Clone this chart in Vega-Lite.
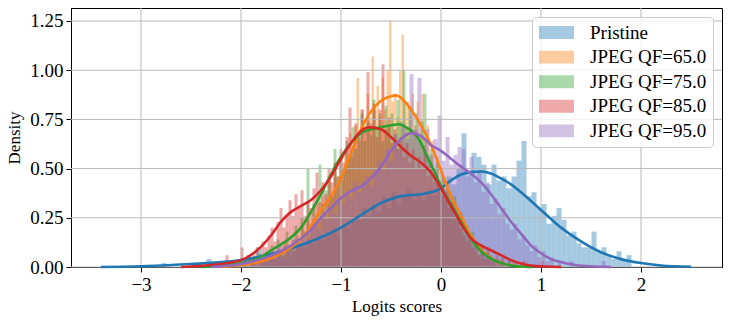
{
  "$schema": "https://vega.github.io/schema/vega-lite/v6.json",
  "width": 651,
  "height": 259,
  "autosize": {"type": "none"},
  "padding": {"left": 71, "top": 8, "right": 9, "bottom": 56},
  "background": "white",
  "config": {
    "font": "Liberation Serif",
    "view": {"stroke": "black", "strokeWidth": 1},
    "axis": {"grid": false, "domainColor": "black", "tickColor": "black", "tickSize": 5, "labelColor": "black", "titleColor": "black", "labelFont": "Liberation Serif", "titleFont": "Liberation Serif", "titleFontWeight": "normal"},
    "legend": {"labelFont": "Liberation Serif", "labelFontSize": 19, "labelColor": "black"}
  },
  "datasets": {
    "P": [{"a":-2.8,"d":0.02},{"a":-2.35,"d":0.04},{"a":-2.2,"d":0.02},{"a":-2.05,"d":0.02},{"a":-2.0,"d":0.04},{"a":-1.9,"d":0.04},{"a":-1.85,"d":0.10},{"a":-1.8,"d":0.04},{"a":-1.75,"d":0.06},{"a":-1.7,"d":0.04},{"a":-1.65,"d":0.08},{"a":-1.6,"d":0.06},{"a":-1.55,"d":0.10},{"a":-1.5,"d":0.08},{"a":-1.45,"d":0.12},{"a":-1.4,"d":0.10},{"a":-1.35,"d":0.14},{"a":-1.3,"d":0.12},{"a":-1.25,"d":0.16},{"a":-1.2,"d":0.14},{"a":-1.15,"d":0.18},{"a":-1.1,"d":0.20},{"a":-1.05,"d":0.16},{"a":-1.0,"d":0.22},{"a":-0.95,"d":0.20},{"a":-0.9,"d":0.26},{"a":-0.85,"d":0.24},{"a":-0.8,"d":0.30},{"a":-0.75,"d":0.26},{"a":-0.7,"d":0.32},{"a":-0.65,"d":0.28},{"a":-0.6,"d":0.36},{"a":-0.55,"d":0.30},{"a":-0.5,"d":0.38},{"a":-0.45,"d":0.32},{"a":-0.4,"d":0.36},{"a":-0.35,"d":0.40},{"a":-0.3,"d":0.34},{"a":-0.25,"d":0.38},{"a":-0.2,"d":0.34},{"a":-0.15,"d":0.40},{"a":-0.1,"d":0.36},{"a":-0.05,"d":0.42},{"a":0.0,"d":0.38},{"a":0.05,"d":0.46},{"a":0.1,"d":0.42},{"a":0.15,"d":0.50},{"a":0.2,"d":0.68},{"a":0.25,"d":0.48},{"a":0.3,"d":0.58},{"a":0.35,"d":0.56},{"a":0.4,"d":0.52},{"a":0.45,"d":0.42},{"a":0.5,"d":0.52},{"a":0.55,"d":0.44},{"a":0.6,"d":0.46},{"a":0.65,"d":0.40},{"a":0.7,"d":0.46},{"a":0.75,"d":0.54},{"a":0.8,"d":0.64},{"a":0.85,"d":0.36},{"a":0.9,"d":0.38},{"a":0.95,"d":0.30},{"a":1.0,"d":0.32},{"a":1.05,"d":0.22},{"a":1.1,"d":0.26},{"a":1.15,"d":0.30},{"a":1.2,"d":0.24},{"a":1.25,"d":0.16},{"a":1.3,"d":0.18},{"a":1.35,"d":0.12},{"a":1.4,"d":0.10},{"a":1.45,"d":0.10},{"a":1.5,"d":0.18},{"a":1.55,"d":0.08},{"a":1.6,"d":0.10},{"a":1.65,"d":0.06},{"a":1.7,"d":0.04},{"a":1.75,"d":0.08},{"a":1.8,"d":0.04},{"a":1.85,"d":0.06}],
    "O": [{"a":-1.9,"d":0.04},{"a":-1.85,"d":0.04},{"a":-1.8,"d":0.04},{"a":-1.775,"d":0.04},{"a":-1.725,"d":0.04},{"a":-1.7,"d":0.08},{"a":-1.675,"d":0.04},{"a":-1.65,"d":0.04},{"a":-1.625,"d":0.08},{"a":-1.6,"d":0.04},{"a":-1.575,"d":0.12},{"a":-1.55,"d":0.08},{"a":-1.525,"d":0.04},{"a":-1.5,"d":0.12},{"a":-1.475,"d":0.08},{"a":-1.45,"d":0.16},{"a":-1.425,"d":0.12},{"a":-1.4,"d":0.20},{"a":-1.375,"d":0.12},{"a":-1.35,"d":0.24},{"a":-1.325,"d":0.16},{"a":-1.3,"d":0.28},{"a":-1.275,"d":0.20},{"a":-1.25,"d":0.32},{"a":-1.225,"d":0.24},{"a":-1.2,"d":0.36},{"a":-1.175,"d":0.28},{"a":-1.15,"d":0.32},{"a":-1.125,"d":0.44},{"a":-1.1,"d":0.36},{"a":-1.075,"d":0.48},{"a":-1.05,"d":0.40},{"a":-1.025,"d":0.52},{"a":-1.0,"d":0.44},{"a":-0.975,"d":0.60},{"a":-0.95,"d":0.52},{"a":-0.925,"d":0.68},{"a":-0.9,"d":0.56},{"a":-0.875,"d":0.72},{"a":-0.85,"d":0.96},{"a":-0.825,"d":0.64},{"a":-0.8,"d":0.80},{"a":-0.775,"d":0.72},{"a":-0.75,"d":0.88},{"a":-0.725,"d":0.76},{"a":-0.7,"d":1.07},{"a":-0.675,"d":0.80},{"a":-0.65,"d":0.92},{"a":-0.625,"d":0.76},{"a":-0.6,"d":0.96},{"a":-0.575,"d":0.80},{"a":-0.55,"d":1.00},{"a":-0.525,"d":1.25},{"a":-0.5,"d":0.84},{"a":-0.475,"d":0.88},{"a":-0.45,"d":0.76},{"a":-0.425,"d":1.00},{"a":-0.4,"d":1.18},{"a":-0.375,"d":0.84},{"a":-0.35,"d":0.84},{"a":-0.325,"d":0.76},{"a":-0.3,"d":0.88},{"a":-0.275,"d":0.72},{"a":-0.25,"d":0.84},{"a":-0.225,"d":0.68},{"a":-0.2,"d":0.88},{"a":-0.175,"d":0.64},{"a":-0.15,"d":0.72},{"a":-0.125,"d":0.56},{"a":-0.1,"d":0.64},{"a":-0.075,"d":0.48},{"a":-0.05,"d":0.56},{"a":-0.025,"d":0.44},{"a":0.0,"d":0.48},{"a":0.025,"d":0.36},{"a":0.05,"d":0.44},{"a":0.075,"d":0.32},{"a":0.1,"d":0.36},{"a":0.125,"d":0.24},{"a":0.15,"d":0.28},{"a":0.175,"d":0.20},{"a":0.2,"d":0.24},{"a":0.225,"d":0.16},{"a":0.25,"d":0.20},{"a":0.275,"d":0.12},{"a":0.3,"d":0.16},{"a":0.325,"d":0.08},{"a":0.35,"d":0.12},{"a":0.375,"d":0.04},{"a":0.4,"d":0.08},{"a":0.425,"d":0.04},{"a":0.45,"d":0.08},{"a":0.5,"d":0.04},{"a":0.55,"d":0.04},{"a":0.6,"d":0.04},{"a":0.7,"d":0.04}],
    "G": [{"a":-1.98,"d":0.04},{"a":-1.92,"d":0.04},{"a":-1.89,"d":0.04},{"a":-1.83,"d":0.07},{"a":-1.8,"d":0.04},{"a":-1.77,"d":0.07},{"a":-1.74,"d":0.04},{"a":-1.71,"d":0.11},{"a":-1.68,"d":0.07},{"a":-1.65,"d":0.14},{"a":-1.62,"d":0.07},{"a":-1.59,"d":0.11},{"a":-1.56,"d":0.18},{"a":-1.53,"d":0.11},{"a":-1.5,"d":0.14},{"a":-1.47,"d":0.21},{"a":-1.44,"d":0.14},{"a":-1.41,"d":0.25},{"a":-1.38,"d":0.18},{"a":-1.35,"d":0.50},{"a":-1.32,"d":0.21},{"a":-1.29,"d":0.32},{"a":-1.26,"d":0.25},{"a":-1.23,"d":0.52},{"a":-1.2,"d":0.32},{"a":-1.17,"d":0.39},{"a":-1.14,"d":0.46},{"a":-1.11,"d":0.36},{"a":-1.08,"d":0.60},{"a":-1.05,"d":0.46},{"a":-1.02,"d":0.56},{"a":-0.99,"d":0.50},{"a":-0.96,"d":0.64},{"a":-0.93,"d":0.57},{"a":-0.9,"d":0.71},{"a":-0.87,"d":0.60},{"a":-0.84,"d":0.67},{"a":-0.81,"d":0.78},{"a":-0.78,"d":0.64},{"a":-0.75,"d":0.74},{"a":-0.72,"d":0.67},{"a":-0.69,"d":0.85},{"a":-0.66,"d":0.71},{"a":-0.63,"d":0.78},{"a":-0.6,"d":0.64},{"a":-0.57,"d":0.82},{"a":-0.54,"d":0.71},{"a":-0.51,"d":0.78},{"a":-0.48,"d":0.67},{"a":-0.45,"d":0.85},{"a":-0.42,"d":0.74},{"a":-0.39,"d":1.00},{"a":-0.36,"d":0.71},{"a":-0.33,"d":0.82},{"a":-0.3,"d":0.67},{"a":-0.27,"d":0.78},{"a":-0.24,"d":0.64},{"a":-0.21,"d":0.74},{"a":-0.18,"d":0.88},{"a":-0.15,"d":0.57},{"a":-0.12,"d":0.60},{"a":-0.09,"d":0.50},{"a":-0.06,"d":0.53},{"a":-0.03,"d":0.43},{"a":0.0,"d":0.46},{"a":0.03,"d":0.36},{"a":0.06,"d":0.39},{"a":0.09,"d":0.32},{"a":0.12,"d":0.36},{"a":0.15,"d":0.25},{"a":0.18,"d":0.28},{"a":0.21,"d":0.18},{"a":0.24,"d":0.21},{"a":0.27,"d":0.14},{"a":0.3,"d":0.18},{"a":0.33,"d":0.11},{"a":0.36,"d":0.07},{"a":0.39,"d":0.11},{"a":0.42,"d":0.04},{"a":0.45,"d":0.07},{"a":0.48,"d":0.04},{"a":0.51,"d":0.04},{"a":0.57,"d":0.04},{"a":0.66,"d":0.04}],
    "R": [{"a":-2.16,"d":0.06},{"a":-2.1,"d":0.03},{"a":-2.04,"d":0.03},{"a":-2.01,"d":0.10},{"a":-1.98,"d":0.03},{"a":-1.95,"d":0.06},{"a":-1.92,"d":0.03},{"a":-1.89,"d":0.06},{"a":-1.86,"d":0.10},{"a":-1.83,"d":0.06},{"a":-1.8,"d":0.13},{"a":-1.77,"d":0.10},{"a":-1.74,"d":0.16},{"a":-1.71,"d":0.20},{"a":-1.68,"d":0.13},{"a":-1.65,"d":0.23},{"a":-1.62,"d":0.30},{"a":-1.59,"d":0.20},{"a":-1.56,"d":0.26},{"a":-1.53,"d":0.34},{"a":-1.5,"d":0.26},{"a":-1.47,"d":0.37},{"a":-1.44,"d":0.30},{"a":-1.41,"d":0.39},{"a":-1.38,"d":0.26},{"a":-1.35,"d":0.33},{"a":-1.32,"d":0.30},{"a":-1.29,"d":0.40},{"a":-1.26,"d":0.48},{"a":-1.23,"d":0.33},{"a":-1.2,"d":0.43},{"a":-1.17,"d":0.37},{"a":-1.14,"d":0.50},{"a":-1.11,"d":0.43},{"a":-1.08,"d":0.53},{"a":-1.05,"d":0.46},{"a":-1.02,"d":0.60},{"a":-0.99,"d":0.53},{"a":-0.96,"d":0.66},{"a":-0.93,"d":0.81},{"a":-0.9,"d":0.60},{"a":-0.87,"d":0.73},{"a":-0.84,"d":0.66},{"a":-0.81,"d":0.80},{"a":-0.78,"d":0.70},{"a":-0.75,"d":0.99},{"a":-0.72,"d":0.73},{"a":-0.69,"d":0.83},{"a":-0.66,"d":0.66},{"a":-0.63,"d":0.80},{"a":-0.6,"d":1.03},{"a":-0.57,"d":0.70},{"a":-0.54,"d":0.76},{"a":-0.51,"d":0.63},{"a":-0.48,"d":0.70},{"a":-0.45,"d":0.60},{"a":-0.42,"d":0.66},{"a":-0.39,"d":0.56},{"a":-0.36,"d":0.63},{"a":-0.33,"d":0.53},{"a":-0.3,"d":0.60},{"a":-0.27,"d":0.50},{"a":-0.24,"d":0.56},{"a":-0.21,"d":0.50},{"a":-0.18,"d":0.60},{"a":-0.15,"d":0.46},{"a":-0.12,"d":0.53},{"a":-0.09,"d":0.43},{"a":-0.06,"d":0.46},{"a":-0.03,"d":0.40},{"a":0.0,"d":0.36},{"a":0.03,"d":0.40},{"a":0.06,"d":0.30},{"a":0.09,"d":0.33},{"a":0.12,"d":0.26},{"a":0.15,"d":0.23},{"a":0.18,"d":0.20},{"a":0.21,"d":0.16},{"a":0.24,"d":0.13},{"a":0.27,"d":0.16},{"a":0.3,"d":0.10},{"a":0.33,"d":0.13},{"a":0.36,"d":0.06},{"a":0.39,"d":0.10},{"a":0.42,"d":0.06},{"a":0.45,"d":0.10},{"a":0.48,"d":0.06},{"a":0.51,"d":0.03},{"a":0.54,"d":0.06},{"a":0.57,"d":0.03},{"a":0.6,"d":0.06},{"a":0.66,"d":0.03},{"a":0.72,"d":0.03},{"a":0.81,"d":0.03},{"a":0.99,"d":0.03}],
    "V": [{"a":-2.12,"d":0.03},{"a":-2.04,"d":0.03},{"a":-1.96,"d":0.03},{"a":-1.92,"d":0.05},{"a":-1.88,"d":0.03},{"a":-1.84,"d":0.05},{"a":-1.8,"d":0.03},{"a":-1.76,"d":0.08},{"a":-1.72,"d":0.05},{"a":-1.68,"d":0.08},{"a":-1.64,"d":0.11},{"a":-1.6,"d":0.05},{"a":-1.56,"d":0.11},{"a":-1.52,"d":0.08},{"a":-1.48,"d":0.14},{"a":-1.44,"d":0.11},{"a":-1.4,"d":0.16},{"a":-1.36,"d":0.14},{"a":-1.32,"d":0.19},{"a":-1.28,"d":0.22},{"a":-1.24,"d":0.19},{"a":-1.2,"d":0.27},{"a":-1.16,"d":0.24},{"a":-1.12,"d":0.30},{"a":-1.08,"d":0.27},{"a":-1.04,"d":0.35},{"a":-1.0,"d":0.32},{"a":-0.96,"d":0.38},{"a":-0.92,"d":0.35},{"a":-0.88,"d":0.43},{"a":-0.84,"d":0.38},{"a":-0.8,"d":0.43},{"a":-0.76,"d":0.46},{"a":-0.72,"d":0.41},{"a":-0.68,"d":0.49},{"a":-0.64,"d":0.54},{"a":-0.6,"d":0.49},{"a":-0.56,"d":0.60},{"a":-0.52,"d":0.54},{"a":-0.48,"d":0.68},{"a":-0.44,"d":0.60},{"a":-0.4,"d":0.73},{"a":-0.36,"d":0.65},{"a":-0.32,"d":0.98},{"a":-0.28,"d":0.70},{"a":-0.24,"d":0.96},{"a":-0.2,"d":0.62},{"a":-0.16,"d":0.70},{"a":-0.12,"d":0.57},{"a":-0.08,"d":0.65},{"a":-0.04,"d":0.77},{"a":0.0,"d":0.54},{"a":0.04,"d":0.66},{"a":0.08,"d":0.52},{"a":0.12,"d":0.57},{"a":0.16,"d":0.61},{"a":0.2,"d":0.60},{"a":0.24,"d":0.46},{"a":0.28,"d":0.56},{"a":0.32,"d":0.43},{"a":0.36,"d":0.49},{"a":0.4,"d":0.38},{"a":0.44,"d":0.43},{"a":0.48,"d":0.32},{"a":0.52,"d":0.35},{"a":0.56,"d":0.27},{"a":0.6,"d":0.30},{"a":0.64,"d":0.22},{"a":0.68,"d":0.19},{"a":0.72,"d":0.22},{"a":0.76,"d":0.14},{"a":0.8,"d":0.16},{"a":0.84,"d":0.11},{"a":0.88,"d":0.08},{"a":0.92,"d":0.11},{"a":0.96,"d":0.05},{"a":1.0,"d":0.08},{"a":1.04,"d":0.03},{"a":1.08,"d":0.05},{"a":1.16,"d":0.03},{"a":1.28,"d":0.03},{"a":1.6,"d":0.03}],
    "gx": [{"v":-3},{"v":-2},{"v":-1},{"v":0},{"v":1},{"v":2}],
    "gy": [{"v":0},{"v":0.25},{"v":0.5},{"v":0.75},{"v":1.0},{"v":1.25}],
    "kP": [{"x":-3.4,"k":0.0},{"x":-3.0,"k":0.004},{"x":-2.5,"k":0.015},{"x":-2.0,"k":0.035},{"x":-1.75,"k":0.06},{"x":-1.5,"k":0.095},{"x":-1.25,"k":0.14},{"x":-1.0,"k":0.2},{"x":-0.75,"k":0.28},{"x":-0.6,"k":0.325},{"x":-0.5,"k":0.345},{"x":-0.4,"k":0.36},{"x":-0.2,"k":0.37},{"x":-0.1,"k":0.38},{"x":0.0,"k":0.40},{"x":0.1,"k":0.44},{"x":0.2,"k":0.47},{"x":0.3,"k":0.482},{"x":0.4,"k":0.485},{"x":0.5,"k":0.475},{"x":0.6,"k":0.45},{"x":0.7,"k":0.42},{"x":0.8,"k":0.38},{"x":0.9,"k":0.335},{"x":1.0,"k":0.29},{"x":1.2,"k":0.2},{"x":1.4,"k":0.13},{"x":1.6,"k":0.075},{"x":1.8,"k":0.04},{"x":2.0,"k":0.02},{"x":2.2,"k":0.008},{"x":2.5,"k":0.001}],
    "kO": [{"x":-2.2,"k":0.0},{"x":-2.0,"k":0.01},{"x":-1.75,"k":0.035},{"x":-1.5,"k":0.10},{"x":-1.4,"k":0.14},{"x":-1.3,"k":0.21},{"x":-1.2,"k":0.29},{"x":-1.1,"k":0.36},{"x":-1.0,"k":0.45},{"x":-0.9,"k":0.58},{"x":-0.8,"k":0.70},{"x":-0.7,"k":0.79},{"x":-0.6,"k":0.845},{"x":-0.5,"k":0.868},{"x":-0.45,"k":0.872},{"x":-0.4,"k":0.86},{"x":-0.3,"k":0.80},{"x":-0.2,"k":0.72},{"x":-0.1,"k":0.62},{"x":0.0,"k":0.49},{"x":0.1,"k":0.36},{"x":0.2,"k":0.26},{"x":0.3,"k":0.16},{"x":0.4,"k":0.09},{"x":0.5,"k":0.045},{"x":0.6,"k":0.02},{"x":0.7,"k":0.008},{"x":0.9,"k":0.0}],
    "kG": [{"x":-2.4,"k":0.0},{"x":-2.2,"k":0.008},{"x":-2.0,"k":0.02},{"x":-1.8,"k":0.05},{"x":-1.7,"k":0.085},{"x":-1.6,"k":0.115},{"x":-1.5,"k":0.15},{"x":-1.4,"k":0.2},{"x":-1.3,"k":0.28},{"x":-1.2,"k":0.37},{"x":-1.1,"k":0.47},{"x":-1.0,"k":0.56},{"x":-0.9,"k":0.63},{"x":-0.8,"k":0.68},{"x":-0.7,"k":0.70},{"x":-0.6,"k":0.71},{"x":-0.5,"k":0.72},{"x":-0.42,"k":0.725},{"x":-0.35,"k":0.71},{"x":-0.27,"k":0.68},{"x":-0.2,"k":0.63},{"x":-0.14,"k":0.56},{"x":-0.07,"k":0.49},{"x":0.0,"k":0.41},{"x":0.1,"k":0.32},{"x":0.2,"k":0.23},{"x":0.3,"k":0.145},{"x":0.4,"k":0.08},{"x":0.5,"k":0.042},{"x":0.6,"k":0.02},{"x":0.7,"k":0.008},{"x":0.9,"k":0.0}],
    "kR": [{"x":-2.6,"k":0.0},{"x":-2.3,"k":0.01},{"x":-2.0,"k":0.035},{"x":-1.85,"k":0.08},{"x":-1.7,"k":0.16},{"x":-1.6,"k":0.23},{"x":-1.5,"k":0.28},{"x":-1.4,"k":0.31},{"x":-1.3,"k":0.34},{"x":-1.2,"k":0.39},{"x":-1.1,"k":0.46},{"x":-1.0,"k":0.55},{"x":-0.9,"k":0.63},{"x":-0.8,"k":0.69},{"x":-0.72,"k":0.71},{"x":-0.6,"k":0.70},{"x":-0.5,"k":0.66},{"x":-0.4,"k":0.61},{"x":-0.3,"k":0.565},{"x":-0.2,"k":0.53},{"x":-0.1,"k":0.48},{"x":0.0,"k":0.40},{"x":0.1,"k":0.31},{"x":0.2,"k":0.22},{"x":0.3,"k":0.145},{"x":0.4,"k":0.11},{"x":0.5,"k":0.085},{"x":0.6,"k":0.06},{"x":0.7,"k":0.035},{"x":0.8,"k":0.018},{"x":0.9,"k":0.008},{"x":1.2,"k":0.0}],
    "kV": [{"x":-2.3,"k":0.0},{"x":-2.0,"k":0.015},{"x":-1.8,"k":0.04},{"x":-1.6,"k":0.08},{"x":-1.4,"k":0.145},{"x":-1.3,"k":0.19},{"x":-1.2,"k":0.25},{"x":-1.1,"k":0.30},{"x":-1.0,"k":0.35},{"x":-0.9,"k":0.385},{"x":-0.8,"k":0.41},{"x":-0.7,"k":0.45},{"x":-0.6,"k":0.51},{"x":-0.5,"k":0.59},{"x":-0.4,"k":0.65},{"x":-0.3,"k":0.68},{"x":-0.2,"k":0.665},{"x":-0.1,"k":0.62},{"x":0.0,"k":0.59},{"x":0.1,"k":0.55},{"x":0.2,"k":0.51},{"x":0.3,"k":0.475},{"x":0.4,"k":0.43},{"x":0.5,"k":0.37},{"x":0.6,"k":0.30},{"x":0.7,"k":0.23},{"x":0.8,"k":0.17},{"x":0.9,"k":0.11},{"x":1.0,"k":0.07},{"x":1.1,"k":0.04},{"x":1.2,"k":0.025},{"x":1.4,"k":0.006},{"x":1.7,"k":0.0}]
  },
  "encoding": {
    "x": {"field": "x", "type": "quantitative", "title": "Logits scores",
      "scale": {"domain": [-3.7, 2.81], "nice": false, "zero": false},
      "axis": {"values": [-3, -2, -1, 0, 1, 2], "format": "d", "labelExpr": "replace(datum.label, '-', '−')", "labelFontSize": 19, "titleFontSize": 17, "labelPadding": 3, "titlePadding": 4}},
    "y": {"field": "k", "type": "quantitative", "title": "Density",
      "scale": {"domain": [0, 1.316], "nice": false},
      "axis": {"values": [0, 0.25, 0.5, 0.75, 1.0, 1.25], "format": ".2f", "labelFontSize": 19, "titleFontSize": 17, "labelPadding": 3, "titlePadding": 6}}
  },
  "layer": [
    {"data": {"name": "P"}, "mark": {"type": "bar", "binSpacing": 0, "opacity": 0.4},
     "encoding": {"x": {"field": "a", "type": "quantitative", "bin": {"binned": true, "step": 0.05}, "title": "Logits scores", "scale": {"domain": [-3.7, 2.81], "nice": false, "zero": false}, "axis": {"values": [-3, -2, -1, 0, 1, 2], "format": "d", "labelExpr": "replace(datum.label, '-', '−')", "labelFontSize": 19, "titleFontSize": 17, "labelPadding": 3, "titlePadding": 4}},
       "y": {"field": "d", "type": "quantitative", "title": "Density", "scale": {"domain": [0, 1.316], "nice": false}, "axis": {"values": [0, 0.25, 0.5, 0.75, 1.0, 1.25], "format": ".2f", "labelFontSize": 19, "titleFontSize": 17, "labelPadding": 3, "titlePadding": 6}},
       "color": {"datum": "Pristine", "type": "nominal",
         "scale": {"domain": ["Pristine", "JPEG QF=65.0", "JPEG QF=75.0", "JPEG QF=85.0", "JPEG QF=95.0"], "range": ["#1f77b4", "#ff7f0e", "#2ca02c", "#d62728", "#9467bd"]},
         "legend": {"title": null, "orient": "top-right", "offset": 9, "padding": 6, "fillColor": "rgba(255,255,255,0.8)", "strokeColor": "#cccccc", "cornerRadius": 4, "symbolType": "M-2,-0.74H2V0.74H-2Z", "symbolSize": 306, "symbolOffset": 9, "symbolOpacity": 0.4, "symbolStrokeWidth": 0, "labelOffset": 24, "rowPadding": 4.6, "labelFontSize": 19, "labelFont": "Liberation Serif", "zindex": 2}}}},
    {"data": {"name": "O"}, "mark": {"type": "bar", "binSpacing": 0, "opacity": 0.4},
     "encoding": {"x": {"field": "a", "type": "quantitative", "bin": {"binned": true, "step": 0.025}, "title": "Logits scores", "axis": {"values": [-3, -2, -1, 0, 1, 2], "format": "d", "labelExpr": "replace(datum.label, '-', '−')", "labelFontSize": 19, "titleFontSize": 17, "labelPadding": 3, "titlePadding": 4}},
       "y": {"field": "d", "type": "quantitative", "title": "Density", "axis": {"values": [0, 0.25, 0.5, 0.75, 1.0, 1.25], "format": ".2f", "labelFontSize": 19, "titleFontSize": 17, "labelPadding": 3, "titlePadding": 6}},
       "color": {"datum": "JPEG QF=65.0", "type": "nominal"}}},
    {"data": {"name": "G"}, "mark": {"type": "bar", "binSpacing": 0, "opacity": 0.4},
     "encoding": {"x": {"field": "a", "type": "quantitative", "bin": {"binned": true, "step": 0.03}, "title": "Logits scores", "axis": {"values": [-3, -2, -1, 0, 1, 2], "format": "d", "labelExpr": "replace(datum.label, '-', '−')", "labelFontSize": 19, "titleFontSize": 17, "labelPadding": 3, "titlePadding": 4}},
       "y": {"field": "d", "type": "quantitative", "title": "Density", "axis": {"values": [0, 0.25, 0.5, 0.75, 1.0, 1.25], "format": ".2f", "labelFontSize": 19, "titleFontSize": 17, "labelPadding": 3, "titlePadding": 6}},
       "color": {"datum": "JPEG QF=75.0", "type": "nominal"}}},
    {"data": {"name": "R"}, "mark": {"type": "bar", "binSpacing": 0, "opacity": 0.4},
     "encoding": {"x": {"field": "a", "type": "quantitative", "bin": {"binned": true, "step": 0.03}, "title": "Logits scores", "axis": {"values": [-3, -2, -1, 0, 1, 2], "format": "d", "labelExpr": "replace(datum.label, '-', '−')", "labelFontSize": 19, "titleFontSize": 17, "labelPadding": 3, "titlePadding": 4}},
       "y": {"field": "d", "type": "quantitative", "title": "Density", "axis": {"values": [0, 0.25, 0.5, 0.75, 1.0, 1.25], "format": ".2f", "labelFontSize": 19, "titleFontSize": 17, "labelPadding": 3, "titlePadding": 6}},
       "color": {"datum": "JPEG QF=85.0", "type": "nominal"}}},
    {"data": {"name": "V"}, "mark": {"type": "bar", "binSpacing": 0, "opacity": 0.4},
     "encoding": {"x": {"field": "a", "type": "quantitative", "bin": {"binned": true, "step": 0.04}, "title": "Logits scores", "axis": {"values": [-3, -2, -1, 0, 1, 2], "format": "d", "labelExpr": "replace(datum.label, '-', '−')", "labelFontSize": 19, "titleFontSize": 17, "labelPadding": 3, "titlePadding": 4}},
       "y": {"field": "d", "type": "quantitative", "title": "Density", "axis": {"values": [0, 0.25, 0.5, 0.75, 1.0, 1.25], "format": ".2f", "labelFontSize": 19, "titleFontSize": 17, "labelPadding": 3, "titlePadding": 6}},
       "color": {"datum": "JPEG QF=95.0", "type": "nominal"}}},
    {"data": {"name": "gx"}, "mark": {"type": "rule", "color": "#b8b8b8", "strokeWidth": 1},
     "encoding": {"x": {"field": "v", "type": "quantitative", "title": "Logits scores", "axis": {"values": [-3, -2, -1, 0, 1, 2], "format": "d", "labelExpr": "replace(datum.label, '-', '−')", "labelFontSize": 19, "titleFontSize": 17, "labelPadding": 3, "titlePadding": 4}}, "y": {"value": 0}, "y2": {"value": 259}}},
    {"data": {"name": "gy"}, "mark": {"type": "rule", "color": "#b8b8b8", "strokeWidth": 1},
     "encoding": {"y": {"field": "v", "type": "quantitative", "title": "Density", "axis": {"values": [0, 0.25, 0.5, 0.75, 1.0, 1.25], "format": ".2f", "labelFontSize": 19, "titleFontSize": 17, "labelPadding": 3, "titlePadding": 6}}, "x": {"value": 0}, "x2": {"value": 651}}},
    {"data": {"name": "kP"}, "mark": {"type": "line", "color": "#1f77b4", "strokeWidth": 2.6, "interpolate": "monotone"}},
    {"data": {"name": "kO"}, "mark": {"type": "line", "color": "#ff7f0e", "strokeWidth": 2.6, "interpolate": "monotone"}},
    {"data": {"name": "kG"}, "mark": {"type": "line", "color": "#2ca02c", "strokeWidth": 2.6, "interpolate": "monotone"}},
    {"data": {"name": "kR"}, "mark": {"type": "line", "color": "#d62728", "strokeWidth": 2.6, "interpolate": "monotone"}},
    {"data": {"name": "kV"}, "mark": {"type": "line", "color": "#9467bd", "strokeWidth": 2.6, "interpolate": "monotone"}}
  ]
}
